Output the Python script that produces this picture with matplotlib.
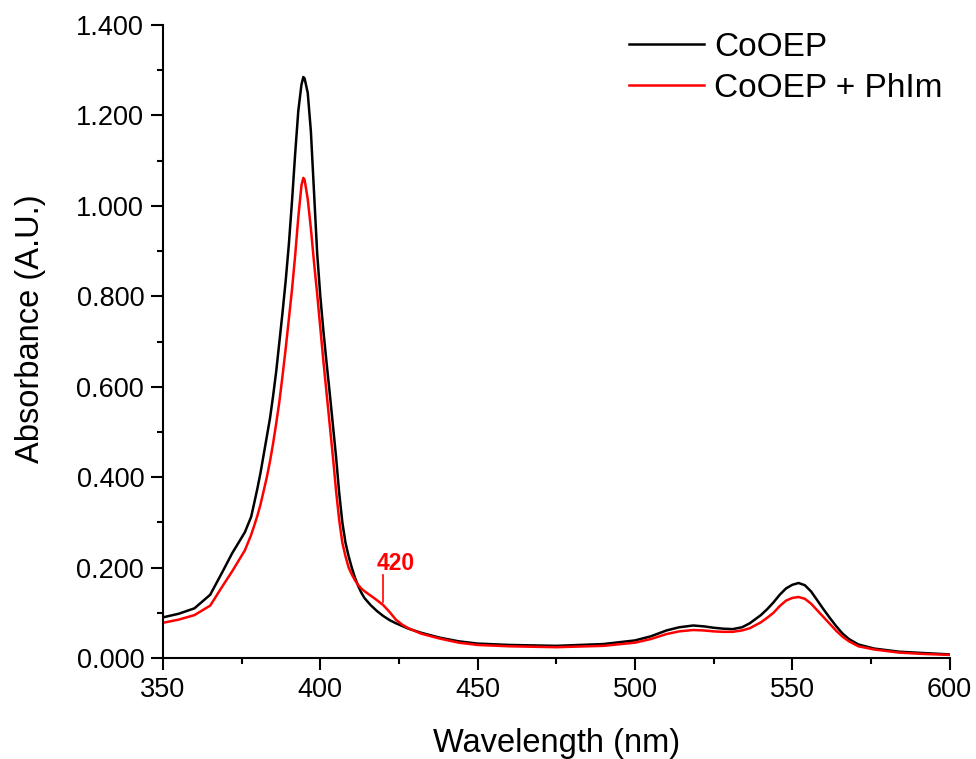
import matplotlib
matplotlib.use('Agg')
import matplotlib.pyplot as plt
from matplotlib.ticker import MultipleLocator, FormatStrFormatter

plt.rcParams['font.family'] = ['Liberation Sans', 'DejaVu Sans']

# Wavelength (nm) and absorbance
wavelength = [350, 355, 360, 365, 369, 372, 376, 378, 379, 380, 381, 382, 383,
              384, 385, 386, 387, 388, 389, 390, 391, 392, 393, 394, 394.6, 395,
              396, 397, 398, 399, 400, 401, 402, 403, 404, 405, 406, 407, 408,
              409, 410, 411, 412, 413, 414, 416, 418, 420, 422, 424, 426, 428,
              432, 438, 444, 450, 460, 475, 490, 500, 505, 510, 514, 518.5, 522,
              525, 528, 531, 534, 536.5, 540, 542, 544, 546, 548, 550, 552, 554,
              556, 558, 560, 562, 564, 566, 568, 571, 576, 584, 592, 600]

cooep = [0.090, 0.098, 0.110, 0.140, 0.192, 0.232, 0.278, 0.312, 0.343, 0.375,
         0.410, 0.450, 0.490, 0.530, 0.580, 0.635, 0.700, 0.765, 0.835, 0.915,
         1.010, 1.115, 1.210, 1.268, 1.285, 1.282, 1.250, 1.165, 1.030, 0.895,
         0.800, 0.722, 0.652, 0.585, 0.515, 0.445, 0.365, 0.300, 0.255, 0.225,
         0.200, 0.178, 0.160, 0.145, 0.133, 0.117, 0.104, 0.093, 0.084, 0.077,
         0.071, 0.065, 0.056, 0.045, 0.037, 0.032, 0.029, 0.027, 0.031, 0.039,
         0.048, 0.061, 0.068, 0.072, 0.070, 0.067, 0.065, 0.064, 0.068, 0.077,
         0.095, 0.108, 0.123, 0.140, 0.154, 0.162, 0.166, 0.161, 0.147, 0.127,
         0.107, 0.088, 0.070, 0.054, 0.042, 0.030, 0.021, 0.014, 0.011, 0.008]

cooep_phim = [0.078, 0.085, 0.095, 0.116, 0.160, 0.192, 0.238, 0.272, 0.293,
              0.315, 0.340, 0.370, 0.400, 0.435, 0.475, 0.520, 0.568, 0.625,
              0.685, 0.750, 0.815, 0.890, 0.975, 1.045, 1.062, 1.058, 1.015,
              0.950, 0.875, 0.805, 0.730, 0.655, 0.585, 0.515, 0.445, 0.370,
              0.305, 0.255, 0.225, 0.200, 0.185, 0.172, 0.162, 0.154, 0.148,
              0.138, 0.128, 0.117, 0.102, 0.085, 0.074, 0.066, 0.054, 0.043,
              0.034, 0.029, 0.026, 0.024, 0.027, 0.034, 0.042, 0.053, 0.059,
              0.062, 0.061, 0.059, 0.058, 0.058, 0.061, 0.066, 0.079, 0.089,
              0.100, 0.115, 0.127, 0.133, 0.135, 0.131, 0.120, 0.105, 0.090,
              0.075, 0.060, 0.047, 0.037, 0.026, 0.019, 0.012, 0.009, 0.007]

fig = plt.figure(figsize=(9.76, 7.59), dpi=100)
ax = fig.add_axes([0.167, 0.133, 0.806, 0.834])

ax.plot(wavelength, cooep, color='black', lw=1.8, label='CoOEP')
ax.plot(wavelength, cooep_phim, color='#ff0000', lw=1.8, label='CoOEP + PhIm')

# shoulder marker
ax.plot([420, 420], [0.124, 0.184], color='#ff0000', lw=1.2)
ax.text(423.8, 0.21, '420', color='#ff0000', fontsize=16.5, fontweight='bold',
        ha='center', va='center')

ax.set_xlim(350, 600)
ax.set_ylim(0, 1.4)
ax.xaxis.set_major_locator(MultipleLocator(50))
ax.xaxis.set_minor_locator(MultipleLocator(25))
ax.yaxis.set_major_locator(MultipleLocator(0.2))
ax.yaxis.set_minor_locator(MultipleLocator(0.1))
ax.yaxis.set_major_formatter(FormatStrFormatter('%.3f'))

for s in ['top', 'right']:
    ax.spines[s].set_visible(False)
for s in ['left', 'bottom']:
    ax.spines[s].set_linewidth(1.5)

ax.tick_params(which='major', direction='out', length=8.5, width=1.5,
               labelsize=19.5, pad=5)
ax.tick_params(which='minor', direction='out', length=4.5, width=1.5)

ax.set_xlabel('Wavelength (nm)', fontsize=23.5, labelpad=18)
ax.set_ylabel('Absorbance (A.U.)', fontsize=23.5, labelpad=22)
ax.yaxis.label.set_y(0.52)

ax.legend(loc='upper right', bbox_to_anchor=(1.0, 1.0), frameon=False,
          fontsize=24, handlelength=2.25, handletextpad=0.3, labelspacing=0.3,
          borderaxespad=0.0, borderpad=0.2)

fig.savefig('out.png', dpi=100)
